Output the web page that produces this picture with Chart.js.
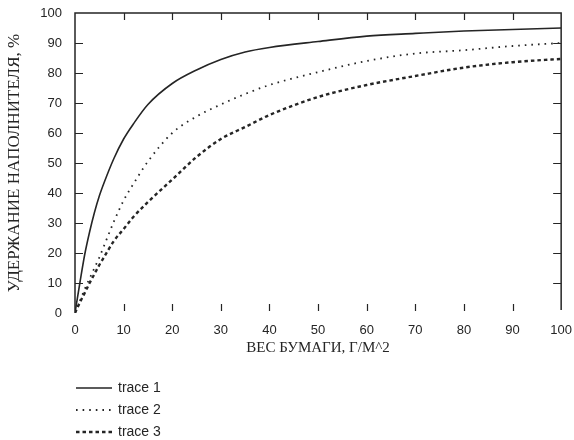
<!DOCTYPE html>
<html>
<head>
<meta charset="utf-8">
<script src="https://cdn.jsdelivr.net/npm/chart.js@4.4.1/dist/chart.umd.min.js"></script>
<style>
html, body { margin: 0; padding: 0; background: #fff; }
</style>
</head>
<body>
<canvas id="chart" width="574" height="440"></canvas>
<script>
// paper weight, g/m^2
const weights = [0, 1, 2, 3, 4, 5, 6, 8, 10, 12, 15, 20, 25, 30, 35, 40, 50, 60, 70, 80, 90, 100];
// filler retention, %
const trace1 = [0, 10, 19.5, 27, 33.5, 39, 43.5, 51.5, 58, 63, 69.5, 76.5, 81, 84.5, 87, 88.5, 90.5, 92.3, 93.2, 94, 94.5, 95];
const trace2 = [0, 4, 8, 11.5, 15, 18.5, 22.5, 30.5, 37.5, 43, 50.5, 60, 65.5, 69.5, 73, 76, 80.3, 84, 86.5, 87.6, 89, 90];
const trace3 = [0, 3.5, 6.7, 10, 13, 16, 18.7, 24, 28, 32, 37, 44.5, 52, 58, 62, 66, 72, 76, 79, 81.8, 83.6, 84.7];
const seriesNames = ['trace 1', 'trace 2', 'trace 3'];
const xTicks = [0, 10, 20, 30, 40, 50, 60, 70, 80, 90, 100];
const yTicks = [0, 10, 20, 30, 40, 50, 60, 70, 80, 90, 100];

const ink = '#252525';

function points(ys) {
  return weights.map((w, i) => ({ x: w, y: ys[i] }));
}

// box with inward ticks, no bottom line (faded on the scan)
const frame = {
  id: 'frame',
  afterDraw(chart) {
    const { ctx, chartArea: a, scales: { x, y } } = chart;
    ctx.save();
    ctx.strokeStyle = ink;
    ctx.lineWidth = 1.5;
    ctx.beginPath();
    ctx.moveTo(a.left, a.bottom);
    ctx.lineTo(a.left, a.top);
    ctx.lineTo(a.right, a.top);
    ctx.lineTo(a.right, a.bottom - 3);
    ctx.stroke();
    ctx.lineWidth = 1.2;
    ctx.beginPath();
    yTicks.slice(1, -1).forEach(v => {
      const py = Math.round(y.getPixelForValue(v)) + 0.5;
      ctx.moveTo(a.left, py); ctx.lineTo(a.left + 8, py);
      ctx.moveTo(a.right, py); ctx.lineTo(a.right - 8, py);
    });
    xTicks.slice(1, -1).forEach(v => {
      const px = Math.round(x.getPixelForValue(v)) + 0.5;
      ctx.moveTo(px, a.top); ctx.lineTo(px, a.top + 7);
      ctx.moveTo(px, a.bottom - 9); ctx.lineTo(px, a.bottom - 2);
    });
    ctx.stroke();
    ctx.restore();
  }
};

const legendBlock = {
  id: 'legendBlock',
  afterDraw(chart) {
    const { ctx } = chart;
    const rows = [388, 410, 432];
    ctx.save();
    ctx.font = '14px "Liberation Sans", Arial, sans-serif';
    ctx.fillStyle = ink;
    ctx.textBaseline = 'middle';
    chart.data.datasets.forEach((ds, i) => {
      ctx.strokeStyle = ds.borderColor;
      ctx.lineWidth = ds.borderWidth;
      ctx.setLineDash(ds.borderDash || []);
      ctx.beginPath();
      ctx.moveTo(76, rows[i]);
      ctx.lineTo(112, rows[i]);
      ctx.stroke();
      ctx.fillText(ds.label, 118, rows[i]);
    });
    ctx.restore();
  }
};

new Chart(document.getElementById('chart'), {
  type: 'line',
  data: {
    datasets: [
      { label: seriesNames[0], data: points(trace1), borderColor: ink, borderWidth: 1.6 },
      { label: seriesNames[1], data: points(trace2), borderColor: ink, borderWidth: 1.8, borderDash: [1.6, 5] },
      { label: seriesNames[2], data: points(trace3), borderColor: ink, borderWidth: 2.4, borderDash: [3.5, 3] },
    ],
  },
  options: {
    responsive: false,
    animation: false,
    layout: { padding: { top: 13, right: 10, left: 0, bottom: 0 } },
    elements: {
      point: { radius: 0 },
      line: { cubicInterpolationMode: 'monotone', fill: false },
    },
    plugins: { legend: { display: false }, tooltip: { enabled: false } },
    scales: {
      x: {
        type: 'linear',
        min: 0,
        max: 100,
        afterBuildTicks: s => { s.ticks = xTicks.map(v => ({ value: v })); },
        afterFit: s => { s.height = 127; },
        grid: { display: false },
        border: { display: false },
        ticks: { color: ink, padding: 2, font: { size: 13, family: '"Liberation Sans", Arial, sans-serif' } },
        title: {
          display: true,
          text: 'ВЕС БУМАГИ, Г/М^2',
          color: ink,
          font: { size: 15, family: '"Liberation Serif", "Times New Roman", serif' },
          padding: { top: 0, bottom: 83 },
        },
      },
      y: {
        min: 0,
        max: 100,
        afterBuildTicks: s => { s.ticks = yTicks.map(v => ({ value: v })); },
        afterFit: s => { s.width = 75; },
        grid: { display: false },
        border: { display: false },
        ticks: { color: ink, padding: 5, font: { size: 13, family: '"Liberation Sans", Arial, sans-serif' } },
        title: {
          display: true,
          text: 'УДЕРЖАНИЕ НАПОЛНИТЕЛЯ, %',
          color: ink,
          font: { size: 17, family: '"Liberation Serif", "Times New Roman", serif' },
          padding: { top: 4, bottom: 0 },
        },
      },
    },
  },
  plugins: [frame, legendBlock],
});
</script>
</body>
</html>
